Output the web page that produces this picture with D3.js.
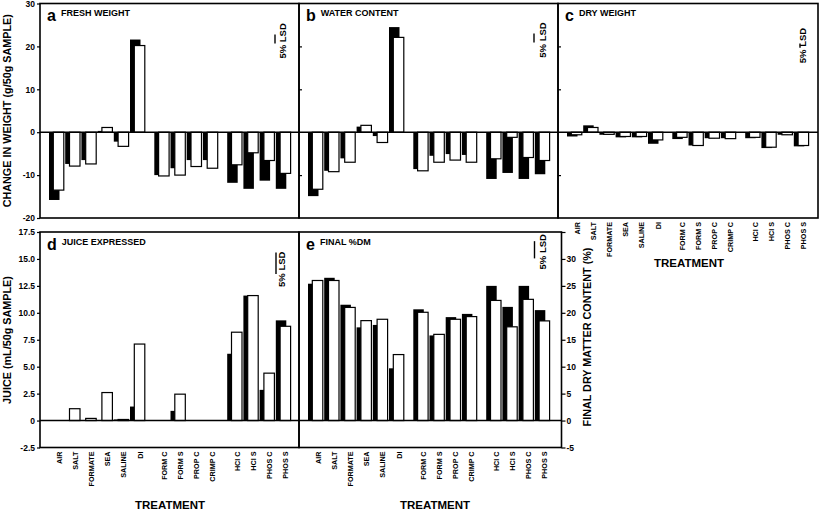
<!DOCTYPE html>
<html>
<head>
<meta charset="utf-8">
<script src="https://cdn.jsdelivr.net/npm/d3@7"></script>
<style>
  body { margin: 0; background: #fff; }
  svg text { font-family: "Liberation Sans", Arial, sans-serif; font-weight: bold; fill: #000; }
</style>
</head>
<body>
<svg id="chart"></svg>
<script>
// treatments, grouped (a half-slot gap sits between groups)
const categories = ["AIR", "SALT", "FORMATE", "SEA", "SALINE", "DI",
  "FORM C", "FORM S", "PROP C", "CRIMP C",
  "HCl C", "HCl S", "PHOS C", "PHOS S"];
const groups = [0, 0, 0, 0, 0, 0, 1, 1, 1, 1, 2, 2, 2, 2];

// black = first series, white = second series
const freshBlack = [-15.8, -7.4, -6.5, 0.3, -2.2, 21.6, -10.0, -8.4, -6.5, -6.5, -11.8, -13.2, -11.3, -13.2];
const freshWhite = [-13.5, -7.9, -7.4, 1.1, -3.3, 20.2, -10.2, -10.0, -8.0, -8.4, -7.6, -4.8, -6.6, -9.6];
const waterBlack = [-14.9, -9.0, -6.1, 1.3, -0.9, 24.5, -8.6, -5.5, -5.1, -5.3, -10.9, -9.5, -10.9, -9.8];
const waterWhite = [-13.3, -9.2, -7.0, 1.6, -2.4, 22.1, -9.0, -7.0, -6.5, -7.0, -6.2, -1.2, -5.9, -6.6];
const dryBlack = [-1.0, 1.6, -0.6, -1.2, -1.2, -2.7, -1.6, -3.1, -1.4, -1.4, -1.4, -3.7, -0.6, -3.3];
const dryWhite = [-0.6, 1.1, -0.5, -1.0, -1.0, -1.8, -1.2, -3.1, -1.4, -1.5, -1.2, -3.5, -0.6, -3.1];
const juiceBlack = [0, 0, 0, 0, 0.1, 1.3, 0, 0.9, 0, 0, 6.2, 11.6, 2.85, 9.3];
const juiceWhite = [0, 1.1, 0.2, 2.6, 0.1, 7.1, 0, 2.45, 0, 0, 8.2, 11.6, 4.4, 8.75];
const dmBlack = [25.4, 26.5, 21.5, 17.3, 17.75, 9.7, 20.65, 15.8, 19.2, 19.8, 25.0, 21.1, 25.0, 20.5];
const dmWhite = [26.0, 26.0, 21.0, 18.55, 18.8, 12.25, 20.1, 16.0, 18.8, 19.3, 22.3, 17.4, 22.5, 18.5];

// 5% LSD: length and top of the bar, per panel a..e
const lsdValues = [2.1, 2.1, 1.0, 2.0, 3.2];
const lsdTops = [22.8, 23.0, 20.7, 15.6, 33.3];

// tick values
const changeTicks = [-20, -10, 0, 10, 20, 30];
const juiceTicks = [-2.5, 0, 2.5, 5, 7.5, 10, 12.5, 15, 17.5];
const dmTicks = [-5, 0, 5, 10, 15, 20, 25, 30, 35];

let svg = d3.select("#chart")
  .attr('width', 820)
  .attr('height', 511);

let slot = 16.2;
let barW = 10.5;
let whiteOff = 4.3;

let yChange = d3.scaleLinear().domain([-20, 30]).range([218, 3.5]);
let yJuice = d3.scaleLinear().domain([-2.5, 17.5]).range([447.5, 232]);
let yDm = d3.scaleLinear().domain([-5, 35]).range([447.5, 232]);

let pos = categories.map((c, i) => i + groups[i] * 0.5);

function panel(p) {
  let g = svg.append('g');
  let x = d3.scaleLinear().domain([0, 14]).range([p.left + 9, p.left + 9 + 14 * slot]);
  let y = p.y;
  let top = y.range()[1], bottom = y.range()[0];

  // black bars behind
  g.selectAll('rect.blk')
    .data(p.black)
    .join('rect')
    .attr('class', 'blk')
    .attr('x', (d, i) => x(pos[i]))
    .attr('y', d => y(Math.max(0, d)))
    .attr('width', barW)
    .attr('height', d => Math.abs(y(d) - y(0)))
    .attr('fill', 'black');

  // white bars in front
  g.selectAll('rect.wht')
    .data(p.white)
    .join('rect')
    .attr('class', 'wht')
    .attr('x', (d, i) => x(pos[i]) + whiteOff)
    .attr('y', d => y(Math.max(0, d)))
    .attr('width', barW)
    .attr('height', d => Math.abs(y(d) - y(0)))
    .attr('fill', 'white')
    .attr('stroke', 'black')
    .attr('stroke-width', 1.2);

  // zero line
  g.append('line')
    .attr('x1', p.left).attr('x2', p.right)
    .attr('y1', y(0)).attr('y2', y(0))
    .attr('stroke', 'black').attr('stroke-width', 1.6);

  // frame
  g.append('rect')
    .attr('x', p.left).attr('y', top)
    .attr('width', p.right - p.left)
    .attr('height', bottom - top)
    .attr('fill', 'none')
    .attr('stroke', 'black')
    .attr('stroke-width', 1.6);

  // panel letter + name
  let letter = g.append('text')
    .attr('x', p.left + 7).attr('y', top + 17.5)
    .attr('font-size', 16)
    .text(p.letter);
  let lw = letter.node().getComputedTextLength();
  g.append('text')
    .attr('x', p.left + 7 + lw + 5).attr('y', top + 12.5)
    .attr('font-size', 9)
    .text(p.name);

  // LSD bar + label
  let k = p.idx;
  g.append('line')
    .attr('x1', p.right - p.lsdDx).attr('x2', p.right - p.lsdDx)
    .attr('y1', y(lsdTops[k])).attr('y2', y(lsdTops[k] - lsdValues[k]))
    .attr('stroke', 'black').attr('stroke-width', 1.4);
  let ty = (y(lsdTops[k]) + y(lsdTops[k] - lsdValues[k])) / 2 + p.lsdTy;
  g.append('text')
    .attr('transform', `translate(${p.right - p.lsdTx},${ty}) rotate(-90)`)
    .attr('text-anchor', 'middle')
    .attr('font-size', 9.5)
    .text('5% LSD');

  // treatment labels under the panel
  if (p.labels) {
    g.selectAll('text.cat')
      .data(categories)
      .join('text')
      .attr('class', 'cat')
      .attr('transform', (d, i) => `translate(${x(pos[i]) + 12.5},${bottom + 4}) rotate(-90)`)
      .attr('text-anchor', 'end')
      .attr('font-size', 7.2)
      .text(d => d);
    g.append('text')
      .attr('x', p.left + p.treatX).attr('y', p.treatY)
      .attr('text-anchor', 'middle')
      .attr('font-size', 11.5)
      .text('TREATMENT');
  }
  return g;
}

function styleAxis(ax) {
  ax.select('.domain').remove();
  ax.selectAll('.tick line').attr('stroke', 'black').attr('stroke-width', 1.2);
  ax.selectAll('.tick text')
    .attr('font-size', 8.5)
    .attr('font-family', '"Liberation Sans", Arial, sans-serif')
    .attr('font-weight', 'bold')
    .attr('fill', 'black');
}

panel({ idx: 0, letter: 'a', name: 'FRESH WEIGHT', left: 40, right: 299, y: yChange,
  black: freshBlack, white: freshWhite, lsdDx: 24, lsdTx: 13, lsdTy: 2 });
panel({ idx: 1, letter: 'b', name: 'WATER CONTENT', left: 299, right: 558, y: yChange,
  black: waterBlack, white: waterWhite, lsdDx: 24, lsdTx: 12, lsdTy: 2 });
panel({ idx: 2, letter: 'c', name: 'DRY WEIGHT', left: 558, right: 818, y: yChange,
  black: dryBlack, white: dryWhite, lsdDx: 18, lsdTx: 12, lsdTy: 0, labels: true, treatX: 131, treatY: 267 });
panel({ idx: 3, letter: 'd', name: 'JUICE EXPRESSED', left: 40, right: 299, y: yJuice,
  black: juiceBlack, white: juiceWhite, lsdDx: 23, lsdTx: 14, lsdTy: 6, labels: true, treatX: 130, treatY: 509 });
panel({ idx: 4, letter: 'e', name: 'FINAL %DM', left: 299, right: 561.5, y: yDm,
  black: dmBlack, white: dmWhite, lsdDx: 27, lsdTx: 16, lsdTy: 2, labels: true, treatX: 136, treatY: 509 });

// left axes
let axA = svg.append('g').attr('transform', 'translate(40,0)')
  .call(d3.axisLeft(yChange).tickValues(changeTicks).tickSize(3).tickPadding(2).tickFormat(d => String(d)));
styleAxis(axA);

// inner ticks on shared borders of b and c
[299, 558].forEach(xx => {
  let ax = svg.append('g').attr('transform', `translate(${xx},0)`)
    .call(d3.axisRight(yChange).tickValues([-10, 10, 20]).tickSize(3).tickFormat(''));
  styleAxis(ax);
});

let axD = svg.append('g').attr('transform', 'translate(40,0)')
  .call(d3.axisLeft(yJuice).tickValues(juiceTicks).tickSize(3).tickPadding(2)
    .tickFormat(d => d === 0 ? '0' : d.toFixed(1)));
styleAxis(axD);

let axE = svg.append('g').attr('transform', 'translate(561.5,0)')
  .call(d3.axisRight(yDm).tickValues(dmTicks).tickSize(4).tickPadding(1)
    .tickFormat(d => d === 35 ? '' : String(d)));
styleAxis(axE);

// axis titles
svg.append('text')
  .attr('transform', `translate(11,${(yChange.range()[0] + yChange.range()[1]) / 2}) rotate(-90)`)
  .attr('text-anchor', 'middle')
  .attr('font-size', 10.8)
  .text('CHANGE IN WEIGHT (g/50g SAMPLE)');

svg.append('text')
  .attr('transform', `translate(11,340) rotate(-90)`)
  .attr('text-anchor', 'middle')
  .attr('font-size', 10.8)
  .text('JUICE (mL/50g SAMPLE)');

svg.append('text')
  .attr('transform', `translate(591,337) rotate(-90)`)
  .attr('text-anchor', 'middle')
  .attr('font-size', 10.8)
  .text('FINAL DRY MATTER CONTENT (%)');
</script>
</body>
</html>
